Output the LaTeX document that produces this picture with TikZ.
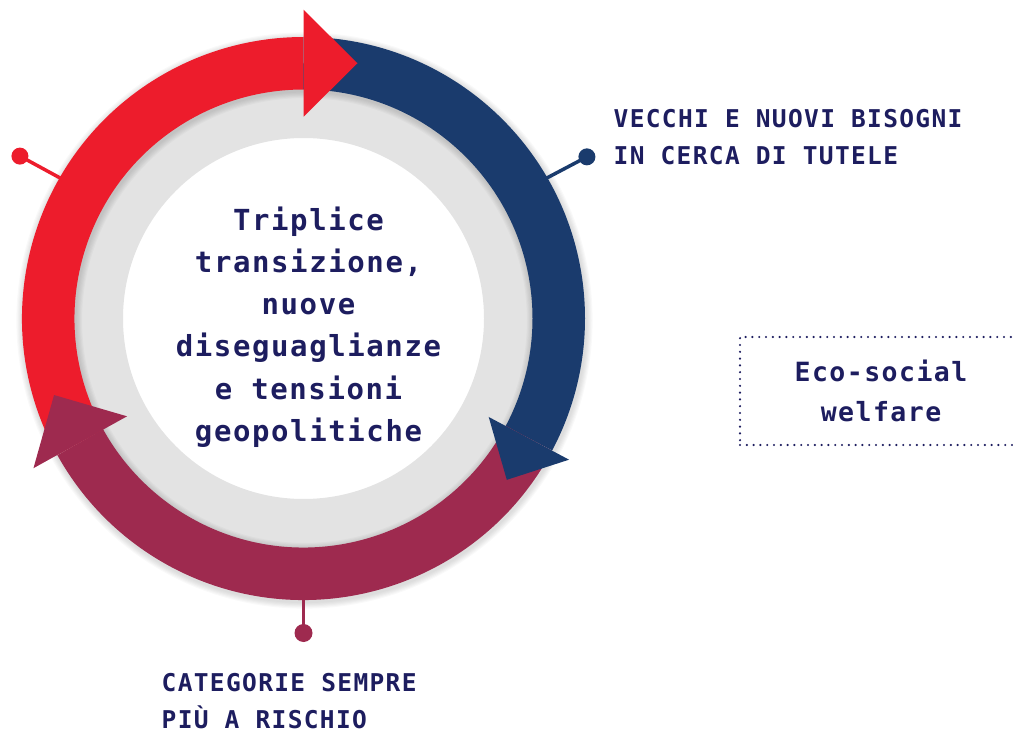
\documentclass[tikz,border=0pt]{standalone}
\usepackage{fontspec}
\newfontfamily\monof[LetterSpace=5.5]{DejaVu Sans Mono}
\definecolor{cred}{HTML}{ED1C2C}
\definecolor{cblue}{HTML}{1A3B6D}
\definecolor{cmaroon}{HTML}{9E2A4F}
\definecolor{cgray}{HTML}{E3E3E3}
\definecolor{ctext}{HTML}{1D1D5F}
\begin{document}
\begin{tikzpicture}[x=1pt,y=1pt,
  band/.style={line width=52.5pt},
  conn/.style={line width=3.5pt},
  dot/.style={circle, inner sep=0pt, minimum size=17pt},
  lab/.style={font=\monof\bfseries\fontsize{24.5}{36.5}\selectfont, text=ctext, align=left, inner sep=0pt},
  ctr/.style={font=\monof\bfseries\fontsize{29}{42.3}\selectfont, text=ctext, align=center, inner sep=0pt},
  ecobox/.style={draw=ctext, line width=2.4pt, dash pattern=on 0pt off 6.8pt, line cap=round,
    minimum width=282pt, minimum height=108pt, inner sep=0pt, align=center, text=ctext,
    font=\monof\bfseries\fontsize{26.5}{40}\selectfont}]
\useasboundingbox (0,0) rectangle (1013,-730);
\coordinate (C) at (303.5,-318.5);
% gray inner ring
\fill[cgray, even odd rule] (C) circle[radius=231] (C) circle[radius=180.5];
% soft shadow
\foreach \k in {1,...,6}{
  \draw[black, opacity=0.022, line width={52.5+2.2*\k}] ([shift={(1,-2)}]C) circle[radius=255.25];
}
% bands
\draw[band, cred] ([shift={(209:255.25)}]C) arc[start angle=209, end angle=90, radius=255.25];
\draw[band, cblue] ([shift={(90:255.25)}]C) arc[start angle=90, end angle=-28, radius=255.25];
\draw[band, cmaroon] ([shift={(-28:255.25)}]C) arc[start angle=-28, end angle=-151, radius=255.25];
% arrowheads
\begin{scope}[shift={(C)}, rotate=90]
  \fill[cred] (201.75,0) -- (308.75,0) -- (255.25,-54) -- cycle;
\end{scope}
\begin{scope}[shift={(C)}, rotate=-28]
  \fill[cblue] (209.75,0) -- (300.75,0) -- (255.25,-47) -- cycle;
\end{scope}
\begin{scope}[shift={(C)}, rotate=209]
  \fill[cmaroon] (201.75,0) -- (308.75,0) -- (255.25,-54) -- cycle;
\end{scope}
% connectors
\coordinate (rA) at ([shift={(150:281)}]C);
\coordinate (bA) at ([shift={(30:281)}]C);
\coordinate (mA) at ([shift={(-90:281)}]C);
\node[dot, fill=cred] (rD) at ([shift={(150.2:326.8)}]C) {};
\node[dot, fill=cblue] (bD) at ([shift={(29.7:326.3)}]C) {};
\node[dot, fill=cmaroon, minimum size=18pt] (mD) at ([shift={(-90:314.5)}]C) {};
\draw[conn, cred] (rA) -- (rD.center);
\draw[conn, cblue] (bA) -- (bD.center);
\draw[conn, cmaroon] (mA) -- (mD.center);
% texts
\node[ctr] (ct) at (308.5,-327) {Triplice\\transizione,\\nuove\\diseguaglianze\\e tensioni\\geopolitiche};
\node[lab, anchor=north west] (l1) at (613.5,-109.5) {VECCHI E NUOVI BISOGNI\\IN CERCA DI TUTELE};
\node[lab, anchor=north west] (l2) at (161.5,-673.5) {CATEGORIE SEMPRE\\PIÙ A RISCHIO};
\node[ecobox] (eco) at (881,-391) {Eco-social\\welfare};
\end{tikzpicture}
\end{document}
